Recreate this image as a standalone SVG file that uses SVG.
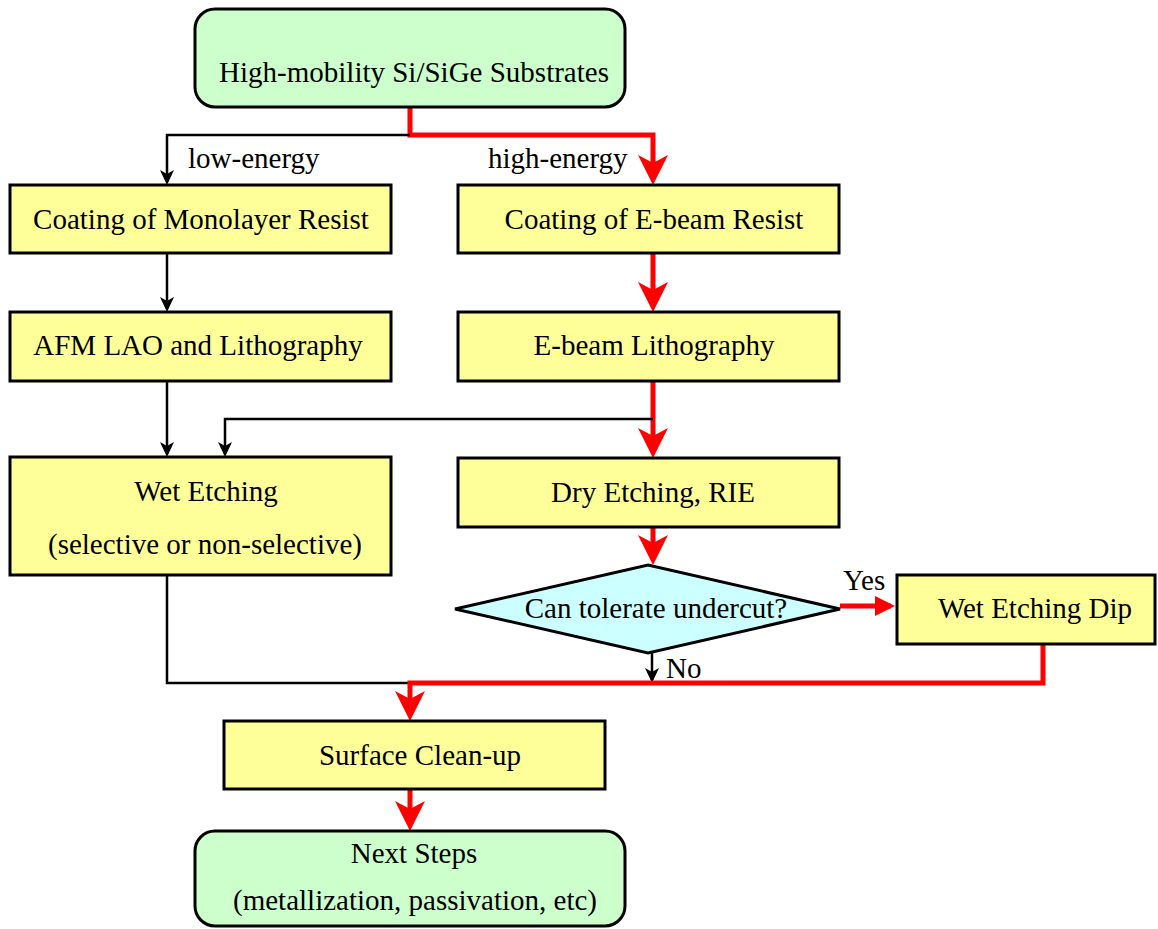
<svg xmlns="http://www.w3.org/2000/svg" width="1158" height="929" viewBox="0 0 1158 929">
<style>
.box{fill:#FFFF99;stroke:#000;stroke-width:3}
.term{fill:#CCFFCC;stroke:#000;stroke-width:3}
.dec{fill:#CCFFFF;stroke:#000;stroke-width:3}
.t{font-size:29px;fill:#000}
.c{text-anchor:middle}
.blk{fill:none;stroke:#000;stroke-width:2.5}
.red{fill:none;stroke:#FF0000;stroke-width:5}
</style>
<defs>
<marker id="ra" markerUnits="userSpaceOnUse" markerWidth="30" markerHeight="30" refX="22" refY="15" orient="auto">
<path d="M0,0 L30,15 L0,30 L8,15 Z" fill="#FF0000"/>
</marker>
<marker id="ry" markerUnits="userSpaceOnUse" markerWidth="22" markerHeight="20" refX="16" refY="10" orient="auto">
<path d="M0,0 L20,10 L0,20 Z" fill="#FF0000"/>
</marker>
<marker id="ba" markerUnits="userSpaceOnUse" markerWidth="16" markerHeight="14" refX="12" refY="7" orient="auto">
<path d="M0,0 L15,7 L0,14 L4,7 Z" fill="#000"/>
</marker>
</defs>
<g id="connectors">
<path class="red" d="M410,107 V135 H653 V177" marker-end="url(#ra)"/>
<path class="blk" d="M410,135 H167 V182" marker-end="url(#ba)"/>
<path class="blk" d="M167,253 V309" marker-end="url(#ba)"/>
<path class="red" d="M653,253 V304" marker-end="url(#ra)"/>
<path class="blk" d="M167,381 V454" marker-end="url(#ba)"/>
<path class="red" d="M653,381 V450" marker-end="url(#ra)"/>
<path class="blk" d="M653,419 H225 V454" marker-end="url(#ba)"/>
<path class="red" d="M653,527 V557" marker-end="url(#ra)"/>
<path class="red" d="M840,606 H891" marker-end="url(#ry)"/>
<path class="blk" d="M652,653 V680" marker-end="url(#ba)"/>
<path class="blk" d="M167,575 V683 H410"/>
<path class="red" d="M1043,644 V683 H410 V713" marker-end="url(#ra)"/>
<path class="red" d="M410,789 V823" marker-end="url(#ra)"/>
</g>
<g font-family="'Liberation Serif', 'DejaVu Serif', 'Times New Roman', serif">
<g id="n-substrates"><rect class="term" x="195" y="9" width="430" height="98" rx="20"/><text class="t c" x="414" y="82">High-mobility Si/SiGe Substrates</text></g>
<g id="l-low"><text class="t" x="188" y="168">low-energy</text></g>
<g id="l-high"><text class="t" x="488" y="168">high-energy</text></g>
<g id="n-coat-mono"><rect class="box" x="10" y="185" width="381" height="68"/><text class="t c" x="201" y="229">Coating of Monolayer Resist</text></g>
<g id="n-coat-ebeam"><rect class="box" x="458" y="185" width="381" height="68"/><text class="t c" x="654" y="229">Coating of E-beam Resist</text></g>
<g id="n-afm"><rect class="box" x="10" y="312" width="381" height="69"/><text class="t c" x="198" y="355">AFM LAO and Lithography</text></g>
<g id="n-ebl"><rect class="box" x="458" y="312" width="381" height="69"/><text class="t c" x="654" y="355">E-beam Lithography</text></g>
<g id="n-wet"><rect class="box" x="10" y="457" width="381" height="118"/><text class="t c" x="206" y="501">Wet Etching</text><text class="t c" x="205" y="554">(selective or non-selective)</text></g>
<g id="n-dry"><rect class="box" x="458" y="458" width="381" height="69"/><text class="t c" x="653" y="502">Dry Etching, RIE</text></g>
<g id="n-decision"><polygon class="dec" points="455,609 648,565 840,609 648,653"/><text class="t c" x="656" y="618">Can tolerate undercut?</text></g>
<g id="l-yes"><text class="t" x="843" y="590">Yes</text></g>
<g id="l-no"><text class="t" x="666" y="678">No</text></g>
<g id="n-dip"><rect class="box" x="897" y="575" width="258" height="69"/><text class="t c" x="1035" y="618">Wet Etching Dip</text></g>
<g id="n-cleanup"><rect class="box" x="224" y="721" width="381" height="68"/><text class="t c" x="420" y="765">Surface Clean-up</text></g>
<g id="n-next"><rect class="term" x="195" y="831" width="430" height="95" rx="20"/><text class="t c" x="414" y="863">Next Steps</text><text class="t c" x="415" y="910">(metallization, passivation, etc)</text></g>
</g>
</svg>
